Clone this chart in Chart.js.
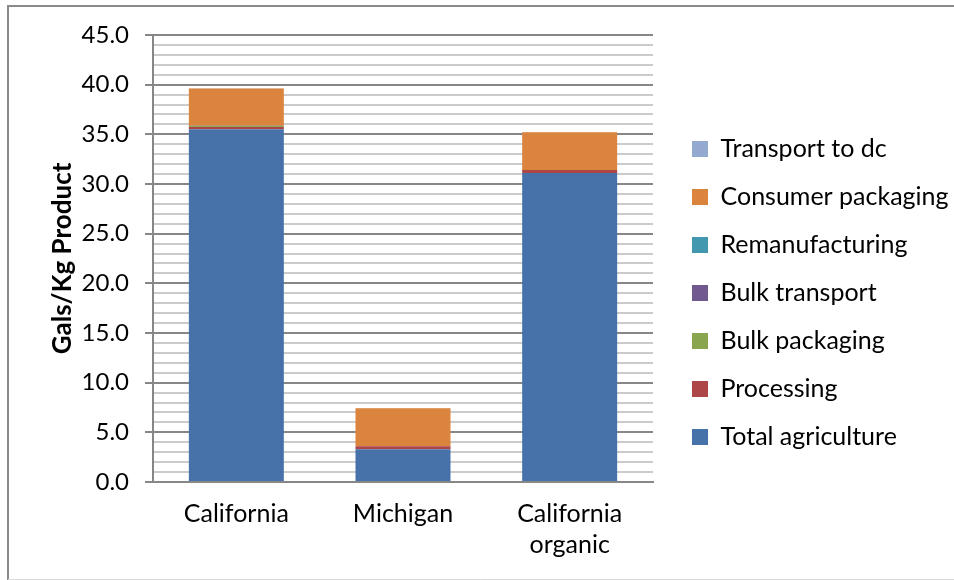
<!DOCTYPE html>
<html>
<head>
<meta charset="utf-8">
<script src="https://cdn.jsdelivr.net/npm/chart.js@4.4.1/dist/chart.umd.min.js"></script>
<style>
  html, body { margin: 0; padding: 0; background: #ffffff; }
  #wrap { width: 954px; height: 580px; position: relative; }
</style>
</head>
<body>
<div id="wrap"><canvas id="c" width="954" height="580"></canvas></div>
<script>
const categories = [["California"], ["Michigan"], ["California", "organic"]];
const totalAgriculture = [35.5, 3.3, 31.1];
const processing = [0.25, 0.3, 0.3];
const bulkPackaging = [0.1, 0.0, 0.0];
const bulkTransport = [0.02, 0.02, 0.02];
const remanufacturing = [0.0, 0.0, 0.0];
const consumerPackaging = [3.75, 3.8, 3.8];
const transportToDc = [0.02, 0.02, 0.02];
const yAxisTitle = "Gals/Kg Product";

const FONT = "Lato, 'Open Sans', sans-serif";
const MAJOR = "#878787";
const MINOR = "#cbcbcb";

const borderPlugin = {
  id: 'outerBorder',
  beforeDraw(chart) {
    const ctx = chart.ctx;
    ctx.save();
    ctx.fillStyle = '#ffffff';
    ctx.fillRect(0, 0, chart.width, chart.height);
    ctx.strokeStyle = '#8a8a8a';
    ctx.lineWidth = 2;
    ctx.beginPath();
    ctx.moveTo(8, 582);
    ctx.lineTo(8, 6);
    ctx.lineTo(960, 6);
    ctx.stroke();
    ctx.strokeStyle = '#d9d9d9';
    ctx.lineWidth = 1;
    ctx.beginPath();
    ctx.moveTo(8, 579.5);
    ctx.lineTo(960, 579.5);
    ctx.stroke();
    ctx.restore();
  }
};

function ds(label, data, color) {
  return { label, data, backgroundColor: color, borderWidth: 0,
           barPercentage: 0.57, categoryPercentage: 1.0 };
}

new Chart(document.getElementById('c'), {
  type: 'bar',
  data: {
    labels: categories,
    datasets: [
      ds('Total agriculture', totalAgriculture, '#4672a9'),
      ds('Processing', processing, '#ad4646'),
      ds('Bulk packaging', bulkPackaging, '#89a54e'),
      ds('Bulk transport', bulkTransport, '#71588f'),
      ds('Remanufacturing', remanufacturing, '#4198af'),
      ds('Consumer packaging', consumerPackaging, '#db843d'),
      ds('Transport to dc', transportToDc, '#93a9cf')
    ]
  },
  options: {
    responsive: false,
    animation: false,
    devicePixelRatio: 1,
    layout: { padding: { left: 40, top: 35, right: 0, bottom: 0 } },
    plugins: {
      tooltip: { enabled: false },
      legend: {
        position: 'right',
        align: 'start',
        reverse: true,
        maxWidth: 285,
        title: {
          display: true,
          text: ' ',
          font: { family: FONT, size: 10, lineHeight: 1.2 },
          padding: { top: 66.5, bottom: 0 }
        },
        labels: {
          font: { family: FONT, size: 25 },
          color: '#000000',
          boxWidth: 16,
          boxHeight: 16,
          padding: 23
        }
      }
    },
    scales: {
      x: {
        stacked: true,
        grid: { display: false, drawTicks: false },
        border: { display: true, color: MAJOR, width: 2 },
        ticks: {
          font: { family: FONT, size: 25, lineHeight: 1.25 },
          color: '#000000',
          padding: 16,
          maxRotation: 0
        },
        afterFit(scale) { scale.height = 98; }
      },
      y: {
        stacked: true,
        min: 0,
        max: 45,
        ticks: {
          stepSize: 1,
          autoSkip: false,
          font: { family: FONT, size: 24 },
          color: '#000000',
          padding: 16,
          callback(v) { return (Math.round(v) % 5 === 0) ? Number(v).toFixed(1) : ''; }
        },
        grid: {
          color(c) { return (c.tick && Math.round(c.tick.value) % 5 === 0) ? MAJOR : MINOR; },
          lineWidth: 2,
          tickLength: 8,
          tickColor(c) { return (c.tick && Math.round(c.tick.value) % 5 === 0) ? MAJOR : 'rgba(0,0,0,0)'; }
        },
        border: { display: true, color: MAJOR, width: 2 },
        title: {
          display: true,
          text: yAxisTitle,
          font: { family: FONT, size: 26, weight: 'bold' },
          color: '#000000',
          padding: { top: 7, bottom: 0 }
        },
        afterFit(scale) { scale.width = 113; }
      },
      spacer: {
        position: 'right',
        display: true,
        grid: { display: false, drawTicks: false },
        border: { display: false },
        ticks: { display: false },
        afterFit(scale) { scale.width = 16; }
      }
    }
  },
  plugins: [borderPlugin]
});
</script>
</body>
</html>
